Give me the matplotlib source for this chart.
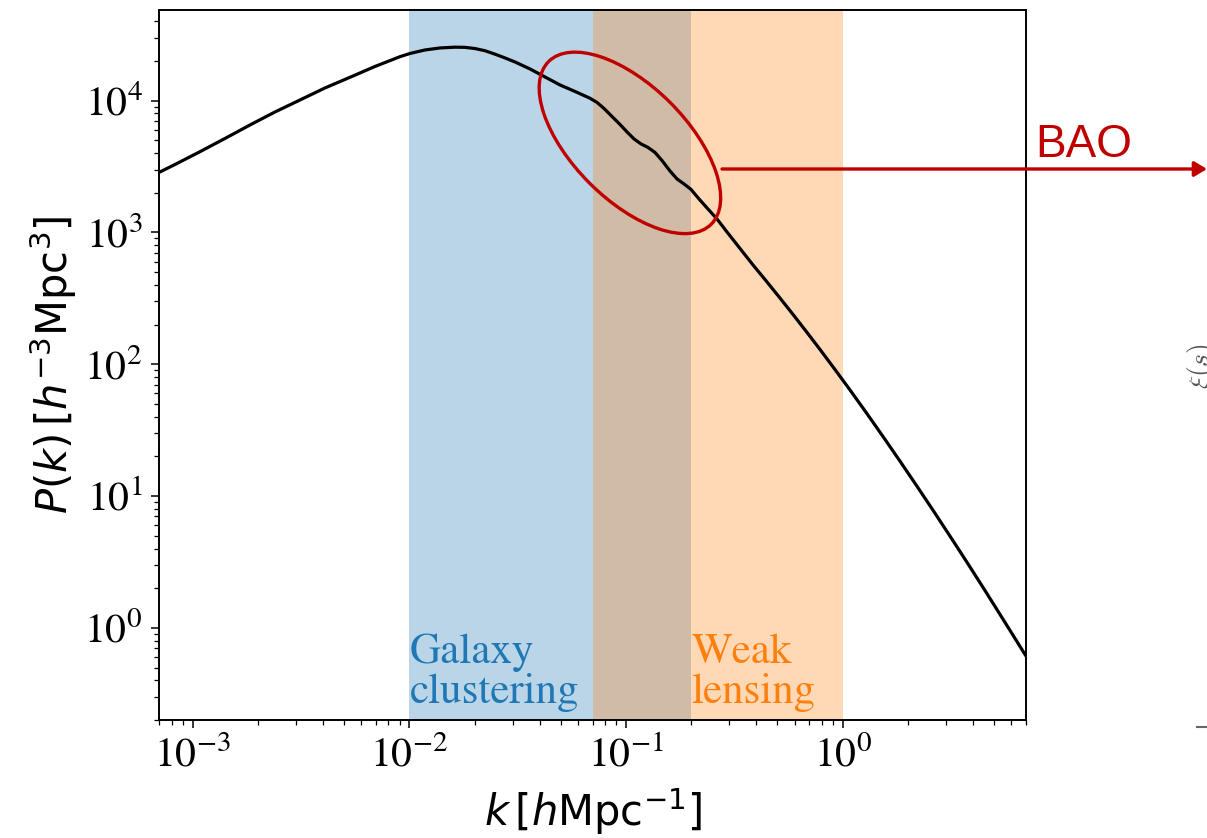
import matplotlib
matplotlib.use("Agg")
import matplotlib.pyplot as plt
from matplotlib.patches import Ellipse
from matplotlib.transforms import ScaledTranslation, blended_transform_factory
from matplotlib.lines import Line2D

# Matter power spectrum P(k) sampled along the curve
k_vals = [7.0e-4, 8.29e-4, 1.081e-3, 1.409e-3, 1.838e-3, 2.398e-3, 3.127e-3,
          4.077e-3, 5.320e-3, 6.94e-3, 9.05e-3, 0.01006, 0.01180, 0.01384,
          0.01623, 0.01805, 0.02008, 0.02233, 0.02483, 0.02762, 0.03071,
          0.03601, 0.04224, 0.04955, 0.05809, 0.06815, 0.07340, 0.07907,
          0.08606, 0.09374, 0.1010, 0.1088, 0.1172, 0.1262, 0.1359, 0.1464,
          0.1594, 0.1717, 0.1850, 0.1993, 0.2170, 0.2362, 0.2627, 0.2921,
          0.3354, 0.3851, 0.4421, 0.5131, 0.5891, 0.6764, 0.7849, 0.9205,
          1.080, 1.280, 1.533, 1.837, 2.200, 2.608, 3.124, 3.743, 4.483,
          5.605, 7.0]
pk_vals = [2860, 3283, 4106, 5169, 6543, 8212, 10123,
           12484, 15043, 18170, 21560, 22790, 24230, 25090,
           25440, 25360, 24830, 23900, 22520, 21070, 19650,
           17390, 15120, 13150, 11740, 10428, 9692, 8728,
           7590, 6600, 5789, 5124, 4695, 4418, 4049, 3521,
           2931, 2549, 2336, 2123, 1798, 1537, 1268, 1010,
           757.7, 568.0, 431.2, 318.7, 239.3, 178.8, 129.9, 91.48,
           63.96, 43.34, 28.41, 18.46, 11.92, 7.845, 4.992, 3.159, 1.986,
           1.107, 0.6166]

# Scale ranges probed by each probe
clustering_range = (0.01, 0.2)
lensing_range = (0.07, 1.0)
labels = ["Galaxy\nclustering", "Weak\nlensing"]
label_x = [0.01, 0.2]

# BAO feature location (centre of the highlighted region)
bao_k, bao_pk = 0.1042, 4780

plt.rcParams["mathtext.fontset"] = "stix"
plt.rcParams["font.family"] = "STIXGeneral"

W, H = 1207, 838
fig = plt.figure(figsize=(W / 100, H / 100), dpi=100)
ax = fig.add_axes([159.3 / W, 1 - 720 / H, (1025.7 - 159.3) / W, (720 - 10) / H])

ax.axvspan(*clustering_range, color="C0", alpha=0.3, lw=0)
ax.axvspan(*lensing_range, color="C1", alpha=0.3, lw=0)
ax.plot(k_vals, pk_vals, color="black", lw=2.3, zorder=3, solid_joinstyle="round")

ax.set_xscale("log")
ax.set_yscale("log")
ax.set_xlim(7.0e-4, 7.0)
ax.set_ylim(0.2, 4.87e4)

ax.tick_params(which="major", labelsize=30, length=6, width=1.1, pad=6)
ax.tick_params(which="minor", length=3.5, width=0.9)
for sp in ax.spines.values():
    sp.set_linewidth(1.4)

ax.set_xlabel(r"$k\,[h\mathrm{Mpc}^{-1}]$", fontsize=30,
              math_fontfamily="dejavusans", labelpad=8)
ax.set_ylabel(r"$P(k)\,[h^{-3}\mathrm{Mpc}^{3}]$", fontsize=30,
              math_fontfamily="dejavusans")

trans = blended_transform_factory(ax.transData, ax.transAxes)
for txt, x0, col in zip(labels, label_x, ["C0", "C1"]):
    ax.text(x0, 0.024, txt, transform=trans, ha="left", va="baseline",
            fontsize=31, color=col, family="STIXGeneral", linespacing=1.02)

# Ellipse highlighting the BAO wiggles, sized in inches around the data point
red = "#C00000"
ell = Ellipse((0, 0), width=2.30, height=1.14, angle=-45, fill=False,
              edgecolor=red, lw=2.4, zorder=4,
              transform=fig.dpi_scale_trans + ScaledTranslation(bao_k, bao_pk, ax.transData))
ax.add_patch(ell)

y_arrow = 1 - 169 / H
ax.annotate("", xy=(1.0, y_arrow), xycoords="figure fraction",
            xytext=(722 / W, y_arrow), textcoords="figure fraction",
            arrowprops=dict(arrowstyle="-|>,head_length=0.75,head_width=0.45",
                            color=red, lw=2.4, shrinkA=0, shrinkB=0),
            annotation_clip=False, zorder=5)
fig.text(1035 / W, 1 - 157 / H, "BAO", color=red, fontsize=33,
         family="Liberation Sans", ha="left", va="baseline")

# Edge of the neighbouring correlation-function panel
fig.text(1185 / W, 1 - 366 / H, r"$\xi(s)$", rotation=90, fontsize=20,
         color="#555555", ha="left", va="center", math_fontfamily="cm")
fig.add_artist(Line2D([1197 / W, 1.0], [1 - 727 / H, 1 - 727 / H],
                      transform=fig.transFigure, color="#666666", lw=1.5))

fig.savefig("out.png", dpi=100)
